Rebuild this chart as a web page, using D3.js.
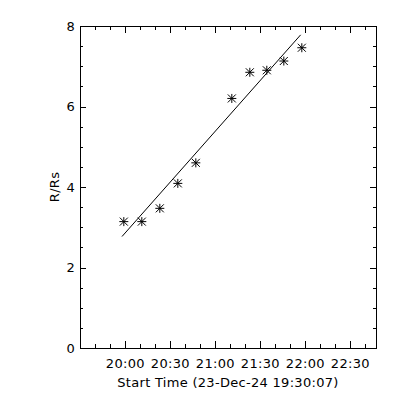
<!DOCTYPE html>
<html>
<head>
<meta charset="utf-8">
<script src="https://cdn.jsdelivr.net/npm/d3@7"></script>
<style>
  body { margin: 0; background: #fff; }
  text { font-family: "DejaVu Sans", sans-serif; font-size: 13px; letter-spacing: 0.3px; fill: #000; }
</style>
</head>
<body>
<div id="chart"></div>
<script>
// Height-time measurements (R/Rs) against start time
const day = "2024-12-23";
const startTime = "19:30:07";
const endTime = "22:47:27";
const obsTimes = ["19:59:20", "20:11:20", "20:23:20", "20:35:20", "20:47:20",
                  "21:11:20", "21:23:20", "21:34:40", "21:46:00", "21:58:00"];
const obsValues = [3.14, 3.14, 3.47, 4.09, 4.60, 6.20, 6.85, 6.90, 7.13, 7.46];

// fitted line, read at its two ends
const fitTimes = ["19:58:07", "21:57:13"];
const fitValues = [2.77, 7.78];

const xTickLabels = ["20:00", "20:30", "21:00", "21:30", "22:00", "22:30"];
const yTicks = [0, 2, 4, 6, 8];
const yMinorStep = 0.5;
const yLabel = "R/Rs";
const xLabel = "Start Time (23-Dec-24 19:30:07)";

const width = 400;
const height = 400;
const margin = {top: 26, right: 24, bottom: 52, left: 80};

const parse = d3.timeParse("%Y-%m-%d %H:%M:%S");
const t = s => parse(day + " " + (s.length === 5 ? s + ":00" : s));

const svg = d3.select("#chart")
  .append("svg")
  .attr("width", width)
  .attr("height", height);

// X scale (time)
const x = d3.scaleTime()
  .domain([t(startTime), t(endTime)])
  .range([margin.left, width - margin.right]);

// Y scale
const y = d3.scaleLinear()
  .domain([0, 8])
  .range([height - margin.bottom, margin.top]);

const xMajor = xTickLabels.map(t);
const xMinor = d3.timeMinute.every(10).range(x.domain()[0], x.domain()[1])
  .filter(d => d.getMinutes() % 30 !== 0);
const yMinor = d3.range(0, 8 + 1e-9, yMinorStep).filter(v => !yTicks.includes(v));

const fmt = d3.timeFormat("%H:%M");

// frame
svg.append("rect")
  .attr("x", margin.left)
  .attr("y", margin.top)
  .attr("width", width - margin.left - margin.right)
  .attr("height", height - margin.top - margin.bottom)
  .attr("fill", "none")
  .attr("stroke", "#000")
  .attr("shape-rendering", "crispEdges");

function styleAxis(g) {
  g.select(".domain").remove();
  g.selectAll("line").attr("stroke", "#000").attr("shape-rendering", "crispEdges");
  g.selectAll("text").attr("font-family", null).attr("font-size", null);
}

// bottom axis with labels
svg.append("g")
  .attr("transform", `translate(0,${height - margin.bottom})`)
  .call(d3.axisBottom(x).tickValues(xMajor).tickFormat(fmt).tickSizeInner(-7).tickSizeOuter(0).tickPadding(11))
  .call(styleAxis);
svg.append("g")
  .attr("transform", `translate(0,${height - margin.bottom})`)
  .call(d3.axisBottom(x).tickValues(xMinor).tickFormat("").tickSizeInner(-4).tickSizeOuter(0))
  .call(styleAxis);
// top axis
svg.append("g")
  .attr("transform", `translate(0,${margin.top})`)
  .call(d3.axisTop(x).tickValues(xMajor).tickFormat("").tickSizeInner(-7).tickSizeOuter(0))
  .call(styleAxis);
svg.append("g")
  .attr("transform", `translate(0,${margin.top})`)
  .call(d3.axisTop(x).tickValues(xMinor).tickFormat("").tickSizeInner(-4).tickSizeOuter(0))
  .call(styleAxis);

// left axis with labels
svg.append("g")
  .attr("transform", `translate(${margin.left},0)`)
  .call(d3.axisLeft(y).tickValues(yTicks).tickFormat(d3.format("d")).tickSizeInner(-6).tickSizeOuter(0).tickPadding(5))
  .call(styleAxis);
svg.append("g")
  .attr("transform", `translate(${margin.left},0)`)
  .call(d3.axisLeft(y).tickValues(yMinor).tickFormat("").tickSizeInner(-3).tickSizeOuter(0))
  .call(styleAxis);
// right axis
svg.append("g")
  .attr("transform", `translate(${width - margin.right},0)`)
  .call(d3.axisRight(y).tickValues(yTicks).tickFormat("").tickSizeInner(-6).tickSizeOuter(0))
  .call(styleAxis);
svg.append("g")
  .attr("transform", `translate(${width - margin.right},0)`)
  .call(d3.axisRight(y).tickValues(yMinor).tickFormat("").tickSizeInner(-3).tickSizeOuter(0))
  .call(styleAxis);

// axis titles
svg.append("text")
  .attr("x", (margin.left + width - margin.right) / 2)
  .attr("y", 387)
  .attr("text-anchor", "middle")
  .text(xLabel);

svg.append("text")
  .attr("transform", `translate(59,${(margin.top + height - margin.bottom) / 2}) rotate(-90)`)
  .attr("text-anchor", "middle")
  .text(yLabel);

// fit line
svg.append("line")
  .attr("x1", x(t(fitTimes[0])))
  .attr("y1", y(fitValues[0]))
  .attr("x2", x(t(fitTimes[1])))
  .attr("y2", y(fitValues[1]))
  .attr("stroke", "#000")
  .attr("stroke-width", 1);

// asterisk markers
const pts = obsTimes.map((s, i) => ({time: t(s), value: obsValues[i]}));
const r = 4.5, rd = 4;
const star = `M${-r},0L${r},0M0,${-r}L0,${r}M${-rd},${-rd}L${rd},${rd}M${-rd},${rd}L${rd},${-rd}`;
svg.selectAll("path.pt")
  .data(pts)
  .enter()
  .append("path")
  .attr("class", "pt")
  .attr("transform", d => `translate(${x(d.time)},${y(d.value)})`)
  .attr("d", star)
  .attr("stroke", "#000")
  .attr("stroke-width", 1)
  .attr("fill", "none");
</script>
</body>
</html>
